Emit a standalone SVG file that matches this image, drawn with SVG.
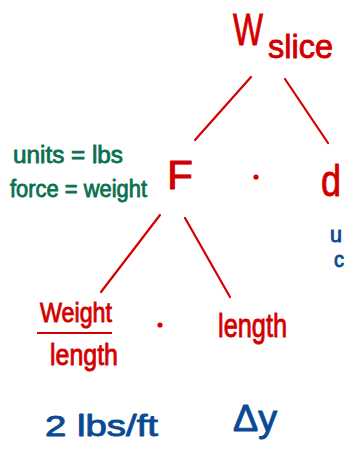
<svg xmlns="http://www.w3.org/2000/svg" width="345" height="451" viewBox="0 0 345 451">
<style>
text{font-family:"Liberation Sans","DejaVu Sans",sans-serif;stroke-linejoin:round;}
.r{fill:#d40000;}
text.r{stroke:#d40000;stroke-width:0.9;}
.g{fill:#0a7050;stroke:#0a7050;stroke-width:0.8;}
.b{fill:#0b4a94;stroke:#0b4a94;stroke-width:0.9;}
.edge{stroke:#d40000;stroke-width:2.2;stroke-linecap:round;fill:none;}
</style>
<rect width="345" height="451" fill="#ffffff"/>
<g id="connectors">
<line class="edge" x1="251" y1="77" x2="195" y2="140"/>
<line class="edge" x1="285" y1="79" x2="328" y2="143"/>
<line class="edge" x1="160" y1="215" x2="101" y2="292"/>
<line class="edge" x1="185" y1="218" x2="230" y2="297"/>
</g>
<g id="node-wslice">
<text class="r" x="233" y="45" font-size="44" textLength="30" lengthAdjust="spacingAndGlyphs">W</text>
<text class="r" x="268" y="58" font-size="34" textLength="65" lengthAdjust="spacingAndGlyphs">slice</text>
</g>
<g id="node-note">
<text class="g" x="13" y="163" font-size="23" textLength="110" lengthAdjust="spacingAndGlyphs">units = lbs</text>
<text class="g" x="10" y="197" font-size="23" textLength="137" lengthAdjust="spacingAndGlyphs">force = weight</text>
</g>
<g id="node-F">
<text class="r" x="167" y="189" font-size="40" textLength="26" lengthAdjust="spacingAndGlyphs">F</text>
</g>
<g id="dot1"><circle cx="256" cy="177" r="2.6" class="r"/></g>
<g id="node-d">
<text class="r" x="321" y="196" font-size="44" textLength="20" lengthAdjust="spacingAndGlyphs">d</text>
</g>
<g id="node-cut">
<text class="b" x="330" y="242" font-size="22" textLength="12" lengthAdjust="spacingAndGlyphs">u</text>
<text class="b" x="334" y="267" font-size="22" textLength="10" lengthAdjust="spacingAndGlyphs">c</text>
</g>
<g id="node-fraction">
<text class="r" x="40" y="322" font-size="28" textLength="72" lengthAdjust="spacingAndGlyphs">Weight</text>
<line x1="37" y1="333" x2="112" y2="333" stroke="#d40000" stroke-width="2.2"/>
<text class="r" x="50" y="365" font-size="30" textLength="68" lengthAdjust="spacingAndGlyphs">length</text>
</g>
<g id="dot2"><circle cx="160" cy="325" r="2.6" class="r"/></g>
<g id="node-length">
<text class="r" x="218" y="337" font-size="34" textLength="69" lengthAdjust="spacingAndGlyphs">length</text>
</g>
<g id="node-value">
<text class="b" x="45" y="436" font-size="30" textLength="113" lengthAdjust="spacingAndGlyphs">2 lbs/ft</text>
</g>
<g id="node-dy">
<text class="b" x="233" y="431" font-size="36" textLength="44" lengthAdjust="spacingAndGlyphs">Δy</text>
</g>
</svg>
